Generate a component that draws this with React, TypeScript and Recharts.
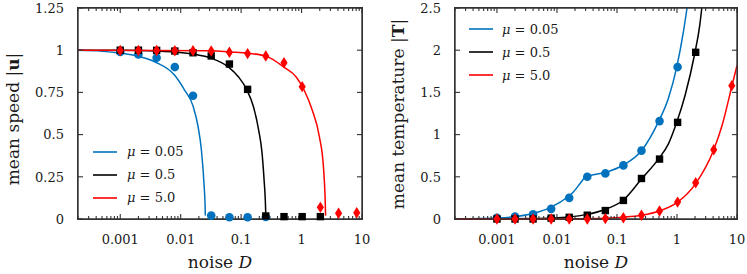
import React from 'react';
import { ComposedChart, Line, Scatter, XAxis, YAxis, Legend } from 'recharts';

// ---------- data ----------
const noiseSamples = [0.001, 0.002, 0.004, 0.008, 0.016, 0.032, 0.064, 0.128, 0.256, 0.512, 1.024, 2.048, 4.096, 8.192];

// mean speed markers
const speedMu005 = [0.99, 0.975, 0.955, 0.9, 0.73, 0.02, 0.01, 0.01, 0.012];
const speedMu05 = [1.0, 1.0, 0.999, 0.995, 0.985, 0.966, 0.918, 0.768, 0.018, 0.014, 0.014, 0.014];
const speedMu5 = [0.998, 0.998, 0.998, 0.997, 0.997, 0.995, 0.988, 0.98, 0.966, 0.926, 0.784, 0.069, 0.034, 0.037];

// mean speed theory curves [D, value]
const speedCurveMu005: [number, number][] = [
  [0.0002, 0.999], [0.0005, 0.994], [0.00089, 0.985], [0.0019, 0.966], [0.0038, 0.93], [0.0079, 0.853],
  [0.0116, 0.764], [0.016, 0.67], [0.0194, 0.547], [0.022, 0.41], [0.0245, 0.19], [0.0253, 0.09], [0.0256, 0.02],
];
const speedCurveMu05: [number, number][] = [
  [0.0002, 1.0], [0.001, 0.999], [0.004, 0.995], [0.0079, 0.99], [0.016, 0.977], [0.0324, 0.952], [0.062, 0.9],
  [0.09, 0.843], [0.125, 0.764], [0.16, 0.665], [0.195, 0.527], [0.222, 0.39], [0.24, 0.23], [0.252, 0.1], [0.256, 0.02],
];
const speedCurveMu5: [number, number][] = [
  [0.0002, 1.0], [0.032, 0.997], [0.065, 0.99], [0.133, 0.982], [0.27, 0.962], [0.51, 0.9], [0.81, 0.843],
  [1.1, 0.764], [1.5, 0.646], [1.97, 0.488], [2.3, 0.31], [2.45, 0.13], [2.5, 0.02],
];

// mean temperature markers
const tempMu005 = [0.015, 0.03, 0.055, 0.12, 0.25, 0.5, 0.54, 0.635, 0.81, 1.16, 1.8];
const tempMu05 = [0.0, 0.0, 0.0, 0.01, 0.02, 0.045, 0.1, 0.22, 0.48, 0.71, 1.145, 1.975];
const tempMu5 = [0.0, 0.0, 0.0, 0.0, 0.0, 0.0, 0.005, 0.015, 0.045, 0.095, 0.2, 0.43, 0.82, 1.58];

// mean temperature theory curves [D, value]
const tempCurveMu005: [number, number][] = [
  [0.0002, 0.002], [0.0005, 0.005], [0.001, 0.012], [0.002, 0.028], [0.004, 0.065], [0.008, 0.14], [0.0156, 0.27],
  [0.0188, 0.32], [0.0243, 0.42], [0.0296, 0.495], [0.0336, 0.51], [0.063, 0.55], [0.128, 0.64], [0.26, 0.815],
  [0.49, 1.15], [0.72, 1.43], [0.99, 1.8], [1.28, 2.22], [1.47, 2.5],
];
const tempCurveMu05: [number, number][] = [
  [0.0002, 0.0], [0.001, 0.002], [0.004, 0.006], [0.008, 0.012], [0.0156, 0.024], [0.031, 0.052], [0.063, 0.112],
  [0.128, 0.225], [0.26, 0.48], [0.49, 0.71], [0.72, 0.89], [0.99, 1.145], [1.37, 1.47], [1.95, 1.94], [2.4, 2.3], [2.59, 2.5],
];
const tempCurveMu5: [number, number][] = [
  [0.0002, 0.0], [0.016, 0.002], [0.032, 0.004], [0.064, 0.01], [0.128, 0.022], [0.256, 0.045], [0.512, 0.095],
  [1.024, 0.2], [2.048, 0.42], [4.096, 0.82], [5.7, 1.12], [8.192, 1.57], [10, 1.82],
];

// ticks
const xMajorTicks = [0.001, 0.01, 0.1, 1, 10];
const xMajorLabels = ['0.001', '0.01', '0.1', '1', '10'];
const xMinorMantissas = [2, 3, 4, 5, 6, 7, 8, 9];
const xDecades = [0.0001, 0.001, 0.01, 0.1, 1];
const speedTicks = [0, 0.25, 0.5, 0.75, 1, 1.25];
const speedTickLabels = ['0', '0.25', '0.5', '0.75', '1', '1.25'];
const tempTicks = [0, 0.5, 1, 1.5, 2, 2.5];
const tempTickLabels = ['0', '0.5', '1', '1.5', '2', '2.5'];
const legendLabels = ['0.05', '0.5', '5.0'];

// ---------- styling / layout ----------
const BLUE = '#0072bd';
const BLACK = '#000000';
const RED = '#ff0000';
const FRAME = '#333333';
const FRAME_W = 1.4;
const TEXT = '#1a1a1a';
const FONT = '"DejaVu Serif", serif';
const X_DOMAIN: [number, number] = [0.0002, 10];
const CHART_H = 274;
const M_TOP = 8;
const M_RIGHT = 10;
const X_AXIS_H = 55;

const xMinorTicks: number[] = [];
xDecades.forEach((d) => {
  xMinorMantissas.forEach((m) => {
    const v = d * m;
    if (v >= X_DOMAIN[0] * 0.999) xMinorTicks.push(v);
  });
});
const xAllTicks = [...xMinorTicks, ...xMajorTicks].sort((a, b) => a - b);

const majorIndex = (v: number) => xMajorTicks.findIndex((m) => Math.abs(m - v) / m < 1e-6);

const toPts = (xs: number[], ys: number[]) => ys.map((y, i) => ({ x: xs[i], y }));
const curvePts = (c: [number, number][]) => c.map(([x, y]) => ({ x, y }));

// ---------- tick label renderers ----------
const BottomTick = (props: any) => {
  const { x, y, payload } = props;
  const idx = majorIndex(payload.value);
  if (idx < 0) return <g />;
  return (
    <text x={x} y={y + 24.5} textAnchor="middle" fontFamily={FONT} fontSize={13} fill={TEXT}>
      {xMajorLabels[idx]}
    </text>
  );
};

const makeLeftTick = (ticks: number[], labels: string[]) => (props: any) => {
  const { x, y, payload } = props;
  const i = ticks.findIndex((t) => Math.abs(t - payload.value) < 1e-9);
  return (
    <text x={x - 14} y={y + 4.7} textAnchor="end" fontFamily={FONT} fontSize={13} fill={TEXT}>
      {i >= 0 ? labels[i] : ''}
    </text>
  );
};

// inward tick-mark shapes (drawn at tick positions through the chart scales)
const tickShape = (dx: number, dy: number) => (p: any) => (
  <path d={`M${p.cx},${p.cy}L${p.cx + dx},${p.cy + dy}`} stroke={FRAME} strokeWidth={1.1} fill="none" />
);
const TickUpMajor = tickShape(0, -5);
const TickUpMinor = tickShape(0, -3);
const TickDownMajor = tickShape(0, 5);
const TickDownMinor = tickShape(0, 3);
const TickRight = tickShape(5, 0);
const TickLeft = tickShape(-5, 0);

// ---------- markers ----------
const CircleMark = (p: any) => <circle cx={p.cx} cy={p.cy} r={4.3} fill={BLUE} />;
const SquareMark = (p: any) => <rect x={p.cx - 3.7} y={p.cy - 3.7} width={7.4} height={7.4} fill={BLACK} />;
const DiamondMark = (p: any) => (
  <path d={`M${p.cx},${p.cy - 5.7}L${p.cx + 3.6},${p.cy}L${p.cx},${p.cy + 5.7}L${p.cx - 3.6},${p.cy}Z`} fill={RED} />
);

// ---------- legend ----------
const LegendBox = ({ gap }: { gap: number }) => {
  const colors = [BLUE, BLACK, RED];
  return (
    <div style={{ fontFamily: FONT, fontSize: 13, color: TEXT }}>
      {legendLabels.map((lab, i) => (
        <div key={lab} style={{ display: 'flex', alignItems: 'center', height: 23 }}>
          <svg width={24} height={4} style={{ display: 'block' }}>
            <line x1={0} x2={24} y1={2} y2={2} stroke={colors[i]} strokeWidth={1.6} />
          </svg>
          <span style={{ marginLeft: gap, lineHeight: '23px', whiteSpace: 'nowrap' }}>
            <i>μ</i> = {lab}
          </span>
        </div>
      ))}
    </div>
  );
};

const XTitle = (props: any) => {
  const vb = props.viewBox;
  return (
    <text x={vb.x + vb.width / 2} y={vb.y + 49} textAnchor="middle" fontFamily={FONT} fontSize={17} fill={TEXT}>
      noise <tspan fontStyle="italic">D</tspan>
    </text>
  );
};

const makeYTitle = (baselineX: number, centerY: number, bold: string) => () => {
  return (
    <text
      x={baselineX}
      y={centerY}
      transform={`rotate(-90, ${baselineX}, ${centerY})`}
      textAnchor="middle"
      fontFamily={FONT}
      fontSize={17}
      fill={TEXT}
    >
      {bold === 'u' ? 'mean speed |' : 'mean temperature |'}
      <tspan fontWeight="bold">{bold}</tspan>|
    </text>
  );
};

type PanelProps = {
  width: number;
  yWidth: number;
  yDomain: [number, number];
  yTicks: number[];
  yLabels: string[];
  curves: [number, number][][];
  marks: number[][];
  legendPos: { left: number; top: number; gap: number };
  yTitle: { x: number; y: number; bold: string };
};

const Panel = ({ width, yWidth, yDomain, yTicks, yLabels, curves, marks, legendPos, yTitle }: PanelProps) => {
  const colors = [BLUE, BLACK, RED];
  const shapes = [CircleMark, SquareMark, DiamondMark];
  const [x0, x1] = X_DOMAIN;
  const [y0, y1] = yDomain;
  const frameEdges = [
    [{ x: x0, y: y0 }, { x: x1, y: y0 }],
    [{ x: x0, y: y1 }, { x: x1, y: y1 }],
    [{ x: x0, y: y0 }, { x: x0, y: y1 }],
    [{ x: x1, y: y0 }, { x: x1, y: y1 }],
  ];
  const at = (xs: number[], y: number) => xs.map((x) => ({ x, y }));
  const atY = (x: number, ys: number[]) => ys.map((y) => ({ x, y }));
  const tickSeries: [any[], any][] = [
    [at(xMajorTicks, y0), TickUpMajor],
    [at(xMinorTicks, y0), TickUpMinor],
    [at(xMajorTicks, y1), TickDownMajor],
    [at(xMinorTicks, y1), TickDownMinor],
    [atY(x0, yTicks), TickRight],
    [atY(x1, yTicks), TickLeft],
  ];
  const plotW = width - yWidth - M_RIGHT;
  const plotH = CHART_H - M_TOP - X_AXIS_H;
  return (
    <div style={{ position: 'relative', width, height: CHART_H }}>
      {/* plot-area border (backup frame behind the svg) */}
      <div
        style={{
          position: 'absolute',
          left: yWidth - FRAME_W / 2,
          top: M_TOP - FRAME_W / 2,
          width: plotW + FRAME_W,
          height: plotH + FRAME_W,
          border: `${FRAME_W}px solid ${FRAME}`,
          boxSizing: 'border-box',
          pointerEvents: 'none',
        }}
      />
      <div style={{ position: 'absolute', left: 0, top: 0 }}>
        <ComposedChart width={width} height={CHART_H} margin={{ top: M_TOP, right: M_RIGHT, bottom: 0, left: 0 }}>
          <XAxis
            xAxisId="b"
            dataKey="x"
            type="number"
            scale="log"
            domain={X_DOMAIN}
            ticks={xAllTicks}
            interval={0}
            tick={BottomTick}
            tickLine={false}
            tickSize={0}
            tickMargin={0}
            axisLine={false}
            height={X_AXIS_H}
            label={{ content: XTitle }}
          />
          <YAxis
            yAxisId="l"
            dataKey="y"
            type="number"
            domain={yDomain}
            ticks={yTicks}
            tickCount={6}
            interval={0}
            tick={makeLeftTick(yTicks, yLabels)}
            tickLine={false}
            tickSize={0}
            tickMargin={0}
            axisLine={false}
            width={yWidth}
            label={{ content: makeYTitle(yTitle.x, yTitle.y, yTitle.bold) }}
          />
          {curves.map((c, i) => (
            <Line
              key={'c' + i}
              xAxisId="b"
              yAxisId="l"
              data={curvePts(c)}
              dataKey="y"
              type="monotone"
              stroke={colors[i]}
              strokeWidth={1.5}
              dot={false}
              activeDot={false}
              isAnimationActive={false}
            />
          ))}
          {tickSeries.map(([d, shp], i) => (
            <Scatter key={'tk' + i} xAxisId="b" yAxisId="l" data={d} shape={shp} isAnimationActive={false} />
          ))}
          {frameEdges.map((e, i) => (
            <Line
              key={'f' + i}
              xAxisId="b"
              yAxisId="l"
              data={e}
              dataKey="y"
              type="linear"
              stroke={FRAME}
              strokeWidth={FRAME_W}
              strokeLinecap="square"
              dot={false}
              activeDot={false}
              isAnimationActive={false}
            />
          ))}
          {marks.map((m, i) => (
            <Scatter
              key={'m' + i}
              xAxisId="b"
              yAxisId="l"
              data={toPts(noiseSamples, m)}
              shape={shapes[i]}
              isAnimationActive={false}
            />
          ))}
          <Legend
            layout="vertical"
            align="center"
            verticalAlign="middle"
            content={() => <LegendBox gap={legendPos.gap} />}
            wrapperStyle={{ left: legendPos.left, top: legendPos.top, width: 'auto', height: 'auto' }}
          />
        </ComposedChart>
      </div>
    </div>
  );
};

export default function App() {
  return (
    <div style={{ position: 'absolute', left: 0, top: 0, width: 747, height: 274, background: '#fff' }}>
      <div style={{ position: 'absolute', left: 0, top: 0 }}>
        <Panel
          width={372}
          yWidth={78}
          yDomain={[0, 1.25]}
          yTicks={speedTicks}
          yLabels={speedTickLabels}
          curves={[speedCurveMu005, speedCurveMu05, speedCurveMu5]}
          marks={[speedMu005, speedMu05, speedMu5]}
          legendPos={{ left: 93, top: 140, gap: 10 }}
          yTitle={{ x: 18.5, y: 119, bold: 'u' }}
        />
      </div>
      <div style={{ position: 'absolute', left: 380, top: 0 }}>
        <Panel
          width={367}
          yWidth={75}
          yDomain={[0, 2.5]}
          yTicks={tempTicks}
          yLabels={tempTickLabels}
          curves={[tempCurveMu005, tempCurveMu05, tempCurveMu5]}
          marks={[tempMu005, tempMu05, tempMu5]}
          legendPos={{ left: 89, top: 17.5, gap: 9 }}
          yTitle={{ x: 24, y: 114, bold: 'T' }}
        />
      </div>
    </div>
  );
}
